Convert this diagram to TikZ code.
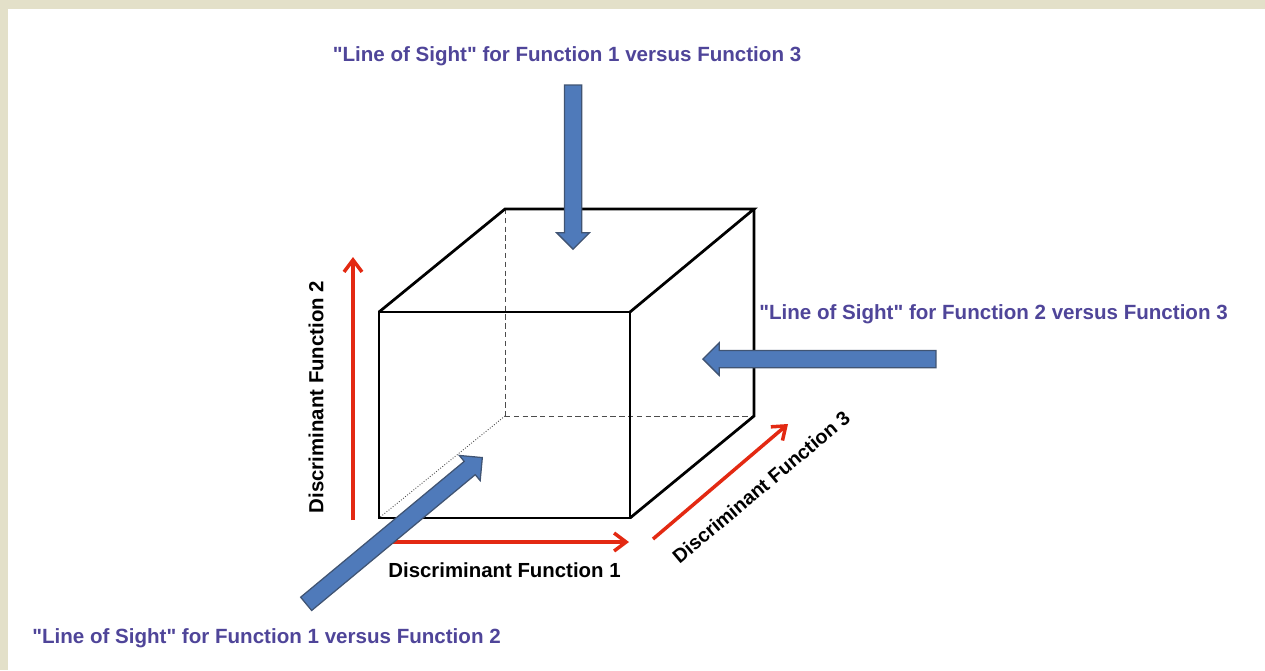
\documentclass[tikz,border=0pt]{standalone}
\usepackage{fontspec}
\setmainfont{Liberation Sans}[Ligatures=TeXOff]
\usetikzlibrary{arrows.meta,shapes.arrows}
\definecolor{framebeige}{rgb}{0.89,0.88,0.79}
\definecolor{sightblue}{rgb}{0.31,0.48,0.73}
\definecolor{sightedge}{rgb}{0.25,0.33,0.45}
\definecolor{sightpurple}{rgb}{0.31,0.27,0.60}
\definecolor{axisred}{rgb}{0.89,0.16,0.07}

\begin{document}
\begin{tikzpicture}[x=0.2mm,y=-0.2mm,font=\fontsize{11.6}{13}\selectfont\bfseries,
   sight/.style={draw=sightedge,line width=0.25mm,fill=sightblue,single arrow,
             single arrow head extend=1.55mm,inner xsep=0pt,inner ysep=1.6mm,
             minimum width=0pt,anchor=tip},
   sighttext/.style={text=sightpurple,inner sep=0pt,font=\fontsize{11.7}{13}\selectfont\bfseries},
   axistext/.style={text=black,inner sep=0pt},
   axis/.style={draw=axisred,line width=0.7mm,-{Straight Barb[length=2.4mm,width=3.6mm,line width=0.7mm]}},
   edge/.style={draw=black,line width=0.55mm,line join=miter},
   hidden/.style={draw=black!70,line width=0.18mm,densely dashed}]
  \useasboundingbox (0,0) rectangle (1265,670);
  \fill[framebeige] (0,0) rectangle (1265,670);
  \fill[white] (8,9) rectangle (1265,670);
  % cube corners
  \coordinate (fbl) at (379,518);
  \coordinate (fbr) at (630,518);
  \coordinate (ftl) at (379,312);
  \coordinate (ftr) at (630,312);
  \coordinate (bbl) at (505,416);
  \coordinate (bbr) at (754,416);
  \coordinate (btl) at (505,209);
  \coordinate (btr) at (754,209);
  % hidden edges
  \draw[hidden] (btl)--(bbl);
  \draw[hidden] (bbl)--(bbr);
  \draw[hidden,densely dotted] (bbl)--(fbl);
  % visible edges
  \draw[edge] (ftl)--(ftr)--(fbr)--(fbl)--cycle;
  \draw[edge] (ftl)--(btl)--(btr)--(ftr);
  \draw[edge] (btr)--(bbr)--(fbr);
  % axes
  \coordinate (a1s) at (392,542);
  \coordinate (a1e) at (629,542);
  \coordinate (a2s) at (353,520);
  \coordinate (a2e) at (353,257);
  \coordinate (a3s) at (653,539);
  \coordinate (a3e) at (788,424);
  \draw[axis] (a1s)--(a1e);
  \draw[axis] (a2s)--(a2e);
  \draw[axis] (a3s)--(a3e);
  \node[axistext] (fn1) at (504.5,570.5) {Discriminant Function 1};
  \node[axistext,rotate=90] (fn2) at (316,397) {Discriminant Function 2};
  \node[axistext,rotate=40,font=\fontsize{11.2}{13}\selectfont\bfseries] (fn3) at (761,487) {Discriminant Function 3};
  % lines of sight
  \node[sight,minimum height=3.28cm,rotate=-90] (top) at (573,250) {};
  \node[sight,minimum height=4.66cm,rotate=180] (side) at (702,359) {};
  \node[sight,minimum height=4.58cm,rotate=39.7] (front) at (483,457) {};
  \node[sighttext] (toptext) at (567,56.5) {"Line of Sight" for Function 1 versus Function 3};
  \node[sighttext] (sidetext) at (993.5,314) {"Line of Sight" for Function 2 versus Function 3};
  \node[sighttext] (fronttext) at (266.5,638) {"Line of Sight" for Function 1 versus Function 2};
\end{tikzpicture}
\end{document}
